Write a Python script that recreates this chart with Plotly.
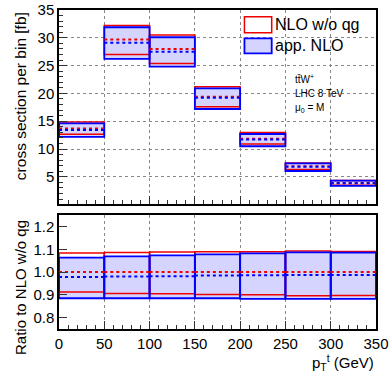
import plotly.graph_objects as go
from plotly.subplots import make_subplots

# pT bins (GeV)
bin_edges = [0, 50, 100, 150, 200, 250, 300, 350]

# cross section per bin [fb]
nlo_central = [13.7, 29.7, 28.0, 19.4, 11.85, 6.9, 3.9]
nlo_low = [12.65, 27.0, 25.4, 17.6, 10.9, 6.3, 3.5]
nlo_high = [14.85, 32.2, 30.5, 21.2, 12.95, 7.5, 4.35]
app_central = [13.4, 29.1, 27.5, 19.2, 11.7, 6.8, 3.85]
app_low = [12.2, 26.2, 24.8, 17.2, 10.5, 6.05, 3.38]
app_high = [14.6, 31.9, 30.1, 20.9, 12.7, 7.4, 4.3]

# ratio to NLO w/o qg
ratio_nlo_central = [1.0, 1.0, 1.0, 1.0, 1.0, 1.0, 1.0]
ratio_nlo_low = [0.912, 0.906, 0.905, 0.902, 0.900, 0.896, 0.897]
ratio_nlo_high = [1.084, 1.086, 1.088, 1.089, 1.089, 1.092, 1.090]
ratio_app_central = [0.978, 0.980, 0.982, 0.985, 0.986, 0.987, 0.987]
ratio_app_low = [0.885, 0.885, 0.885, 0.885, 0.882, 0.882, 0.882]
ratio_app_high = [1.063, 1.069, 1.073, 1.078, 1.082, 1.086, 1.085]

top_ticks = [5, 10, 15, 20, 25, 30, 35]
ratio_ticks = [0.8, 0.9, 1.0, 1.1, 1.2]
x_ticks = [0, 50, 100, 150, 200, 250, 300, 350]

RED = "#ee0000"
BLUE = "#0000ff"
FILL = "#d4d4ff"
FONT = "Liberation Sans, Arial, sans-serif"

centers = [(a + b) / 2 for a, b in zip(bin_edges[:-1], bin_edges[1:])]
widths = [b - a for a, b in zip(bin_edges[:-1], bin_edges[1:])]


def steps(values):
    xs, ys = [], []
    for a, b, v in zip(bin_edges[:-1], bin_edges[1:], values):
        xs += [a, b, None]
        ys += [v, v, None]
    return xs, ys


def add_band(fig, low, high, central, ref_low, ref_high, ref_central, row):
    # blue filled band
    fig.add_trace(go.Bar(x=centers, y=[h - l for l, h in zip(low, high)], base=low,
                         width=widths, marker=dict(color=FILL, line=dict(width=0))),
                  row=row, col=1)
    # red outline band
    fig.add_trace(go.Bar(x=centers, y=[h - l for l, h in zip(ref_low, ref_high)], base=ref_low,
                         width=widths, marker=dict(color="rgba(0,0,0,0)",
                                                   line=dict(color=RED, width=1.5))),
                  row=row, col=1)
    # blue outline band
    fig.add_trace(go.Bar(x=centers, y=[h - l for l, h in zip(low, high)], base=low,
                         width=widths, marker=dict(color="rgba(0,0,0,0)",
                                                   line=dict(color=BLUE, width=1.8))),
                  row=row, col=1)
    xs, ys = steps(ref_central)
    fig.add_trace(go.Scatter(x=xs, y=ys, mode="lines",
                             line=dict(color=RED, width=2, dash="3px,3px")), row=row, col=1)
    xs, ys = steps(central)
    fig.add_trace(go.Scatter(x=xs, y=ys, mode="lines",
                             line=dict(color=BLUE, width=2, dash="3px,3px")), row=row, col=1)


fig = make_subplots(rows=2, cols=1, vertical_spacing=0.0)
add_band(fig, app_low, app_high, app_central, nlo_low, nlo_high, nlo_central, 1)
add_band(fig, ratio_app_low, ratio_app_high, ratio_app_central,
         ratio_nlo_low, ratio_nlo_high, ratio_nlo_central, 2)

axis_common = dict(showline=True, linecolor="black", linewidth=1.5, mirror=True,
                   ticks="inside", tickcolor="#333", zeroline=False, automargin=False,
                   tickfont=dict(size=15, color="black", family=FONT))

fig.update_layout(
    width=392, height=381,
    margin=dict(l=59, r=16, t=10, b=52),
    paper_bgcolor="white", plot_bgcolor="white",
    barmode="overlay", showlegend=False, hovermode=False,
    font=dict(family=FONT, color="black"),
    xaxis=dict(domain=[0, 1], range=[0, 350], tickvals=x_ticks, showticklabels=False,
               ticklen=8, showgrid=True, gridcolor="#888", griddash="dot", gridwidth=1,
               minor=dict(ticks="inside", ticklen=4, dtick=10, tick0=0, tickcolor="#333"),
               anchor="y", **axis_common),
    yaxis=dict(domain=[0.3934, 1.0], range=[0.2, 35], tickvals=top_ticks, ticklen=8,
               showgrid=True, gridcolor="#888", griddash="dot", gridwidth=1,
               minor=dict(ticks="inside", ticklen=4, dtick=1, tick0=0, tickcolor="#333"),
               anchor="x", **axis_common),
    xaxis2=dict(domain=[0, 1], range=[0, 350], tickvals=x_ticks, ticklen=8,
                showgrid=True, gridcolor="#888", griddash="dot", gridwidth=1,
                minor=dict(ticks="inside", ticklen=4, dtick=10, tick0=0, tickcolor="#333"),
                anchor="y2", **axis_common),
    yaxis2=dict(domain=[0.0, 0.357], range=[0.75, 1.25], tickvals=ratio_ticks,
                tickformat=".1f", ticklen=8, showgrid=False, anchor="x2", **axis_common),
)

# legend drawn by hand (ROOT-style boxes)
fig.add_shape(type="rect", xref="paper", yref="paper", x0=0.585, x1=0.671, y0=0.929, y1=0.979,
              line=dict(color=RED, width=1.5), fillcolor="white")
fig.add_shape(type="rect", xref="paper", yref="paper", x0=0.585, x1=0.671, y0=0.864, y1=0.911,
              line=dict(color=BLUE, width=1.8), fillcolor=FILL)
fig.add_annotation(xref="paper", yref="paper", x=0.676, y=0.954, text="NLO w/o qg",
                   showarrow=False, xanchor="left", yanchor="middle", font=dict(size=16))
fig.add_annotation(xref="paper", yref="paper", x=0.676, y=0.888, text="app. NLO",
                   showarrow=False, xanchor="left", yanchor="middle", font=dict(size=16))

# process labels
for yv, txt in [(22.6, "tt\u0304W<sup>+</sup>"), (19.9, "LHC 8 TeV"),
                (17.3, "\u03bc<sub>0</sub> = M")]:
    fig.add_annotation(x=258, y=yv, xref="x", yref="y", text=txt, showarrow=False,
                       xanchor="left", yanchor="middle", font=dict(size=10))

# axis titles
fig.add_annotation(xref="paper", yref="paper", x=-0.123, y=0.730,
                   text="cross section per bin [fb]", textangle=-90, showarrow=False,
                   xanchor="center", yanchor="middle", font=dict(size=15.5))
fig.add_annotation(xref="paper", yref="paper", x=-0.123, y=0.1285,
                   text="Ratio to NLO w/o qg", textangle=-90, showarrow=False,
                   xanchor="center", yanchor="middle", font=dict(size=15))
fig.add_annotation(xref="paper", yref="paper", x=1.0, y=-0.104,
                   text="p<sub>T</sub><sup>t</sup> (GeV)", showarrow=False,
                   xanchor="right", yanchor="middle", font=dict(size=15))

# drop the default page margin so the figure sits at the window's corner
fig.write_html("out.html", config={"displayModeBar": False},
               post_script="document.body.style.margin = '0';")
